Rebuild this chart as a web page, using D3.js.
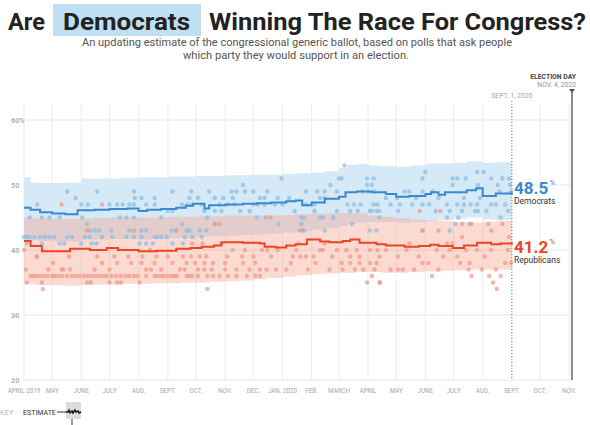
<!DOCTYPE html>
<html><head><meta charset="utf-8">
<script src="https://cdn.jsdelivr.net/npm/d3@7"></script>
<style>
body{margin:0;background:#fff;}
svg{display:block;font-family:Roboto,"Liberation Sans",sans-serif;}
.sm{font-family:Roboto,"Liberation Sans",sans-serif;}
</style>
</head><body>
<svg id="c" width="590" height="425"></svg>
<script>
// ---------- DATA ----------
const yTicks = [20, 30, 40, 50, 60];
const xTickDates = ["2019-04-01","2019-05-01","2019-06-01","2019-07-01","2019-08-01","2019-09-01","2019-10-01","2019-11-01","2019-12-01","2020-01-01","2020-02-01","2020-03-01","2020-04-01","2020-05-01","2020-06-01","2020-07-01","2020-08-01","2020-09-01","2020-10-01","2020-11-01"];
const xTickLabels = ["APRIL 2019","MAY","JUNE","JULY","AUG.","SEPT.","OCT.","NOV.","DEC.","JAN. 2020","FEB.","MARCH","APRIL","MAY","JUNE","JULY","AUG.","SEPT.","OCT.","NOV."];

const demEstimate = [["2019-04-01",46.5],["2019-04-08",46.2],["2019-04-18",45.8],["2019-05-01",45.6],["2019-05-15",45.5],["2019-05-28",46.1],["2019-06-15",46.2],["2019-07-01",46.3],["2019-07-20",46.4],["2019-08-01",46.0],["2019-08-10",46.2],["2019-08-25",46.3],["2019-09-10",46.5],["2019-09-20",46.8],["2019-09-28",47.1],["2019-10-10",46.4],["2019-10-15",46.9],["2019-11-01",47.0],["2019-11-20",47.1],["2019-12-05",47.2],["2019-12-20",47.3],["2020-01-05",47.5],["2020-01-15",47.6],["2020-01-22",46.9],["2020-02-01",47.3],["2020-02-15",47.9],["2020-03-01",48.2],["2020-03-08",48.9],["2020-03-20",49.0],["2020-04-05",48.9],["2020-04-20",48.6],["2020-05-01",48.2],["2020-05-15",48.3],["2020-06-01",48.6],["2020-06-07",48.9],["2020-06-15",48.5],["2020-06-22",48.9],["2020-07-05",48.9],["2020-07-15",49.2],["2020-07-25",49.5],["2020-08-01",48.3],["2020-08-15",48.7],["2020-09-01",48.5]];

const repEstimate = [["2019-04-01",41.4],["2019-04-08",40.6],["2019-04-20",39.8],["2019-05-20",40.2],["2019-06-10",40.0],["2019-06-28",40.3],["2019-07-10",40.0],["2019-08-01",39.8],["2019-08-20",39.9],["2019-09-10",40.2],["2019-09-25",40.3],["2019-10-07",40.5],["2019-10-20",40.7],["2019-10-28",41.2],["2019-11-20",41.1],["2019-12-08",41.0],["2019-12-13",40.5],["2019-12-25",40.4],["2020-01-05",40.7],["2020-01-15",40.9],["2020-01-27",41.6],["2020-02-10",41.3],["2020-02-20",41.2],["2020-03-05",41.4],["2020-03-13",41.6],["2020-03-23",41.1],["2020-04-10",40.9],["2020-04-20",40.7],["2020-05-10",40.5],["2020-05-25",40.6],["2020-06-06",40.8],["2020-06-15",40.6],["2020-06-30",40.3],["2020-07-12",40.7],["2020-07-26",41.1],["2020-08-10",40.9],["2020-08-20",41.0],["2020-09-01",41.2]];

const bandDates = ["2019-04-01","2019-04-08","2019-04-15","2019-05-01","2019-05-15","2019-06-01","2019-06-15","2019-07-01","2019-07-15","2019-08-01","2019-08-15","2019-09-01","2019-09-15","2019-10-01","2019-10-15","2019-11-01","2019-11-15","2019-12-01","2019-12-15","2020-01-01","2020-01-15","2020-02-01","2020-02-15","2020-03-01","2020-03-10","2020-03-20","2020-04-01","2020-04-15","2020-05-01","2020-05-15","2020-06-01","2020-06-15","2020-07-01","2020-07-15","2020-08-01","2020-08-15","2020-09-01"];
const demHigh = [51.2,50.4,50.3,50.3,50.4,51.0,51.0,51.0,51.1,51.2,51.2,51.3,51.3,51.4,51.4,51.5,51.5,51.6,51.6,51.7,51.8,51.9,52.1,52.6,53.1,53.2,53.0,52.9,52.8,53.0,53.3,53.3,53.4,53.6,53.4,53.5,53.3];
const demLow  = [41.6,41.5,41.4,41.3,41.3,41.6,41.6,41.7,41.7,41.6,41.7,41.8,41.9,42.0,42.1,42.2,42.3,42.4,42.5,42.7,42.9,43.1,43.4,43.7,44.0,44.2,44.3,44.3,44.2,44.3,44.5,44.6,44.8,45.0,44.7,44.6,44.5];
const repHigh = [45.0,44.9,44.8,44.8,44.8,44.9,44.9,45.0,45.0,45.0,45.0,45.1,45.1,45.2,45.2,45.3,45.3,45.3,45.3,45.4,45.5,45.6,45.6,45.7,45.7,45.6,45.3,45.1,44.9,44.7,44.6,44.5,44.3,44.2,44.4,44.5,44.6];
const repLow  = [34.8,34.7,34.6,34.6,34.5,34.6,34.7,34.7,34.8,34.8,34.9,34.9,35.0,35.0,35.1,35.2,35.3,35.5,35.7,35.9,36.1,36.3,36.4,36.5,36.5,36.6,36.6,36.5,36.5,36.6,36.7,36.8,36.9,37.0,37.0,37.0,37.0];

const demPolls = [["2019-04-01",42],["2019-04-04",42],["2019-04-07",42],["2019-04-12",42],["2019-04-18",42],["2019-04-23",42],["2019-04-28",42],["2019-04-04",41],["2019-04-20",41],["2019-04-15",47],["2019-04-07",45],["2019-04-20",45],["2019-04-28",45],
["2019-05-03",42],["2019-05-17",42],["2019-05-22",42],["2019-05-09",41],["2019-05-14",41],["2019-05-09",45],["2019-05-17",49],["2019-05-26",48],
["2019-06-01",47],["2019-06-08",47],["2019-06-02",45],["2019-06-07",44],["2019-06-10",43],["2019-06-15",43],["2019-06-20",43],["2019-06-05",42],["2019-06-10",42],["2019-06-23",42],["2019-06-01",41],["2019-06-12",41],["2019-06-17",41],["2019-06-18",49],
["2019-07-01",47],["2019-07-09",47],["2019-07-15",47],["2019-07-22",47],["2019-07-27",47],["2019-07-12",45],["2019-07-19",45],["2019-07-27",45],["2019-07-03",43],["2019-07-22",43],["2019-07-04",42],["2019-07-19",42],["2019-07-27",42],["2019-07-27",49],["2019-07-28",48],
["2019-08-04",42],["2019-08-04",48],["2019-08-18",48],["2019-08-09",47],["2019-08-18",47],["2019-08-25",45],["2019-08-04",43],["2019-08-09",43],["2019-08-18",42],["2019-08-21",42],["2019-08-25",42],["2019-08-31",42],["2019-08-02",41],["2019-08-09",41],["2019-08-16",41],
["2019-09-06",49],["2019-09-26",49],["2019-09-24",48],["2019-09-16",47],["2019-09-22",47],["2019-09-27",47],["2019-09-01",46],["2019-09-06",46],["2019-09-16",44],["2019-09-05",43],["2019-09-10",43],["2019-09-21",43],["2019-09-24",43],["2019-09-19",42],["2019-09-27",42],["2019-09-06",41],["2019-09-17",41],
["2019-10-15",49],["2019-10-03",48],["2019-10-21",48],["2019-10-30",48],["2019-10-07",47],["2019-10-26",47],["2019-10-10",46],["2019-10-21",46],["2019-10-28",46],["2019-10-13",45],["2019-10-21",44],["2019-10-05",43],["2019-10-12",43],["2019-10-07",42],["2019-10-28",41],
["2019-11-08",49],["2019-11-13",49],["2019-11-22",49],["2019-11-20",50],["2019-11-09",48],["2019-11-04",47],["2019-11-11",47],["2019-11-17",46],["2019-11-27",46],
["2019-12-01",49],["2019-12-08",48],["2019-12-01",47],["2019-12-06",47],["2019-12-16",49],["2019-12-13",48],["2019-12-27",48],["2019-12-13",47],["2019-12-24",47],["2019-12-31",51],["2019-12-05",45],["2019-12-14",45],["2019-12-28",44],
["2020-01-01",47],["2020-01-14",46],["2020-01-21",45],["2020-01-24",45],["2020-01-21",44],["2020-01-19",43],["2020-01-24",43],["2020-01-26",49],["2020-01-26",47],["2020-01-08",48],
["2020-02-07",49],["2020-02-15",49],["2020-02-28",49],["2020-02-10",48],["2020-02-15",48],["2020-02-04",47],["2020-02-04",46],["2020-02-28",46],["2020-02-10",45],["2020-02-13",45],["2020-02-24",45],["2020-02-15",43],["2020-02-21",50],
["2020-03-01",51],["2020-03-04",51],["2020-03-07",53],["2020-03-31",51],["2020-03-31",50],["2020-03-10",47],["2020-03-17",47],["2020-03-24",47],["2020-03-13",46],["2020-03-21",46],["2020-03-26",49],["2020-03-15",44],
["2020-04-01",49],["2020-04-08",49],["2020-04-11",47],["2020-04-03",46],["2020-04-13",45],["2020-04-03",43],["2020-04-07",51],["2020-04-05",50],["2020-04-07",47],["2020-04-05",46],["2020-04-10",46],["2020-04-13",46],["2020-04-10",43],["2020-04-20",48],["2020-04-25",47],
["2020-05-02",48],["2020-05-03",46],["2020-05-18",47],["2020-05-29",47],["2020-05-29",51],["2020-05-29",49],["2020-05-29",43],["2020-05-10",49],["2020-05-15",49],["2020-05-22",48],["2020-05-05",47],
["2020-06-01",52],["2020-06-09",49],["2020-06-24",47],["2020-06-24",45],["2020-06-27",46],["2020-06-27",43],["2020-06-30",51],["2020-06-30",50],["2020-06-05",47],["2020-06-15",48],["2020-06-12",46],
["2020-07-05",51],["2020-07-14",51],["2020-07-26",52],["2020-07-27",50],["2020-07-12",48],["2020-07-29",48],["2020-07-05",47],["2020-07-12",47],["2020-07-19",47],["2020-07-26",47],["2020-07-10",46],["2020-07-24",46],["2020-07-27",46],["2020-07-06",45],["2020-07-03",44],["2020-07-18",44],
["2020-08-02",52],["2020-08-10",51],["2020-08-22",51],["2020-08-29",51],["2020-08-17",50],["2020-08-19",49],["2020-08-10",47],["2020-08-15",47],["2020-08-05",46],["2020-08-25",47],["2020-08-30",50],["2020-08-31",49],["2020-08-28",46],["2020-08-20",45]];

const repPolls = [["2019-04-01",40],["2019-04-14",39],["2019-04-15",39],["2019-04-03",37],["2019-04-27",37],["2019-04-04",35],["2019-04-20",35],["2019-04-21",34],["2019-04-08",36],["2019-04-11",36],["2019-04-14",36],["2019-04-18",36],["2019-04-22",36],["2019-04-26",36],
["2019-05-02",38],["2019-05-11",47],["2019-05-11",37],["2019-05-13",37],["2019-05-19",39],["2019-05-20",37],["2019-05-01",36],["2019-05-04",36],["2019-05-08",36],["2019-05-12",36],["2019-05-17",36],["2019-05-22",36],["2019-05-26",36],["2019-05-30",36],
["2019-06-07",43],["2019-06-23",47],["2019-06-18",39],["2019-06-23",38],["2019-06-15",37],["2019-06-07",35],["2019-06-11",35],["2019-06-04",36],["2019-06-08",36],["2019-06-12",36],["2019-06-16",36],["2019-06-20",36],["2019-06-24",36],["2019-06-28",36],
["2019-07-06",39],["2019-07-21",39],["2019-07-09",38],["2019-07-24",38],["2019-07-01",37],["2019-07-01",35],["2019-07-09",35],["2019-07-13",35],["2019-07-27",43],["2019-07-03",36],["2019-07-08",36],["2019-07-13",36],["2019-07-18",36],["2019-07-22",36],["2019-07-27",36],["2019-07-31",36],
["2019-08-04",38],["2019-08-05",39],["2019-08-20",39],["2019-08-18",38],["2019-08-09",37],["2019-08-14",37],["2019-08-25",37],["2019-08-09",36],["2019-08-18",36],["2019-08-21",36],["2019-08-25",36],["2019-08-28",36],["2019-08-02",35],["2019-08-13",40],
["2019-09-01",39],["2019-09-17",39],["2019-09-26",39],["2019-09-06",38],["2019-09-21",38],["2019-09-30",38],["2019-09-14",37],["2019-09-19",37],["2019-09-01",36],["2019-09-05",36],["2019-09-08",36],["2019-09-11",36],["2019-09-21",36],["2019-09-24",36],["2019-09-27",36],["2019-09-10",43],["2019-09-27",41],
["2019-10-05",39],["2019-10-12",39],["2019-10-10",38],["2019-10-19",38],["2019-10-03",37],["2019-10-10",37],["2019-10-18",37],["2019-10-03",36],["2019-10-13",36],["2019-10-19",36],["2019-10-26",36],["2019-10-13",34],["2019-10-21",44],["2019-10-26",44],["2019-10-08",41],
["2019-11-03",39],["2019-11-19",39],["2019-11-01",38],["2019-11-20",38],["2019-11-01",37],["2019-11-13",37],["2019-11-27",37],["2019-11-04",36],["2019-11-13",36],["2019-11-24",36],["2019-11-09",40],["2019-11-22",40],
["2019-12-01",39],["2019-12-03",38],["2019-12-08",37],["2019-12-03",36],["2019-12-08",36],["2019-12-10",40],["2019-12-16",40],["2019-12-27",40],["2019-12-19",45],["2019-12-20",39],["2019-12-15",37],["2019-12-25",37],
["2020-01-16",40],["2020-01-12",39],["2020-01-26",39],["2020-01-22",43],["2020-01-20",39],["2020-01-05",37],["2020-01-28",37],["2020-01-10",38],["2020-01-18",41],
["2020-02-10",40],["2020-02-13",40],["2020-02-28",40],["2020-02-23",39],["2020-02-03",39],["2020-02-20",37],["2020-02-05",38],["2020-02-15",41],
["2020-03-09",40],["2020-03-13",39],["2020-03-23",39],["2020-03-04",38],["2020-03-13",38],["2020-03-23",38],["2020-03-05",37],["2020-03-18",37],["2020-03-27",37],["2020-03-31",35],["2020-03-20",40],
["2020-04-03",40],["2020-04-11",40],["2020-04-03",38],["2020-04-13",39],["2020-04-08",37],["2020-04-13",35],["2020-04-05",36],["2020-04-10",38],["2020-04-20",40],["2020-04-25",37],["2020-04-14",35],
["2020-05-03",39],["2020-05-12",40],["2020-05-20",37],["2020-05-25",39],["2020-05-26",46],["2020-05-29",43],["2020-05-29",38],["2020-05-15",41],["2020-05-08",37],["2020-05-03",37],
["2020-06-17",46],["2020-06-15",43],["2020-06-24",41],["2020-06-15",37],["2020-06-08",36],["2020-06-13",40],["2020-06-20",39],["2020-06-27",40],["2020-06-30",41],["2020-06-04",38],
["2020-07-10",44],["2020-07-20",44],["2020-07-10",42],["2020-07-08",38],["2020-07-18",38],["2020-07-17",37],["2020-07-20",36],["2020-07-26",40],["2020-07-31",37],["2020-07-05",39],["2020-07-14",40],
["2020-08-07",44],["2020-08-22",44],["2020-08-10",43],["2020-08-03",39],["2020-08-10",40],["2020-08-15",37],["2020-08-08",36],["2020-08-25",38],["2020-08-20",36],["2020-08-12",35],["2020-08-28",40],["2020-08-31",38],["2020-08-29",42],["2020-08-16",34]];

const lastPollDate = "2020-09-01";
const electionDate = "2020-11-04";

// ---------- CHART ----------
const parse = d3.timeParse("%Y-%m-%d");
const svg = d3.select("#c");
const DEM = "#3a89d0", REP = "#ee4324";

const x = d3.scaleTime().domain([parse("2019-04-01"), parse(electionDate)]).range([24, 572]);
const y = d3.scaleLinear().domain([20, 60]).range([380, 120]);

// squeeze a text to a narrower, condensed look
function squeeze(sel, f){
  sel.each(function(){
    const w = this.getComputedTextLength();
    d3.select(this).attr("textLength", w*f).attr("lengthAdjust","spacingAndGlyphs");
  });
}

// title
const t = svg.append("g");
t.append("rect").attr("x",53).attr("y",4).attr("width",148).attr("height",32).attr("fill","#bfe0f3");
const tStyle = s => s.attr("font-size",24).attr("font-weight",700).attr("fill","#222").attr("y",30).attr("lengthAdjust","spacingAndGlyphs");
tStyle(t.append("text").attr("x",8).attr("textLength",37).text("Are"));
tStyle(t.append("text").attr("x",63).attr("textLength",127).text("Democrats"));
tStyle(t.append("text").attr("x",209).attr("textLength",377).text("Winning The Race For Congress?"));
t.append("text").attr("x",297).attr("y",46).attr("text-anchor","middle").attr("font-size",11).attr("fill","#555")
  .attr("textLength",430).attr("lengthAdjust","spacingAndGlyphs")
  .text("An updating estimate of the congressional generic ballot, based on polls that ask people");
t.append("text").attr("x",296).attr("y",59).attr("text-anchor","middle").attr("font-size",11).attr("fill","#555")
  .attr("textLength",226).attr("lengthAdjust","spacingAndGlyphs")
  .text("which party they would support in an election.");

// grid
const grid = svg.append("g");
grid.selectAll(".hg").data(yTicks).join("line")
  .attr("x1",24).attr("x2",572).attr("y1",d=>y(d)).attr("y2",d=>y(d))
  .attr("stroke","#e6e6e6").attr("stroke-width",1);
grid.selectAll(".vg").data(xTickDates).join("line")
  .attr("x1",d=>x(parse(d))).attr("x2",d=>x(parse(d))).attr("y1",103).attr("y2",380)
  .attr("stroke","#ececec").attr("stroke-width",1);

// y labels
svg.append("g").selectAll("text").data(yTicks).join("text")
  .attr("class","sm").attr("x",11).attr("y",d=>y(d)+3).attr("font-size",8).attr("font-weight",700).attr("fill","#b0b0b0")
  .text(d=> d===60 ? "60%" : d).call(squeeze, 0.9);

// x labels
svg.append("g").selectAll("text").data(xTickDates).join("text")
  .attr("class","sm").attr("x",d=>x(parse(d))).attr("y",393).attr("text-anchor","middle")
  .attr("font-size",8).attr("fill","#a6a6a6")
  .text((d,i)=>xTickLabels[i])
  .call(squeeze, 0.78);

// bands
const bandRows = (hi, lo) => bandDates.map((d,i)=>({date:parse(d), hi:hi[i], lo:lo[i]}));
const area = d3.area().curve(d3.curveStepAfter).x(d=>x(d.date)).y0(d=>y(d.lo)).y1(d=>y(d.hi));
svg.append("path").attr("d", area(bandRows(demHigh, demLow))).attr("fill","#d5e9f6");
svg.append("path").attr("d", area(bandRows(repHigh, repLow))).attr("fill","rgb(245,162,142)").attr("fill-opacity",0.4);

// dots
svg.append("g").selectAll("circle").data(demPolls).join("circle")
  .attr("cx",d=>x(parse(d[0]))).attr("cy",d=>y(d[1])).attr("r",2.2)
  .attr("fill","#8dbde3").attr("fill-opacity",0.75);
svg.append("g").selectAll("circle").data(repPolls).join("circle")
  .attr("cx",d=>x(parse(d[0]))).attr("cy",d=>y(d[1])).attr("r",2.2)
  .attr("fill","#f29682").attr("fill-opacity",0.7);

// estimate lines
const line = d3.line().curve(d3.curveStepAfter).x(d=>x(parse(d[0]))).y(d=>y(d[1]));
svg.append("path").attr("d", line(demEstimate)).attr("fill","none").attr("stroke",DEM).attr("stroke-width",2);
svg.append("path").attr("d", line(repEstimate)).attr("fill","none").attr("stroke",REP).attr("stroke-width",2);

// sept 1 marker
const xs = x(parse(lastPollDate));
svg.append("line").attr("x1",xs).attr("x2",xs).attr("y1",101).attr("y2",380)
  .attr("stroke","#777").attr("stroke-width",1).attr("stroke-dasharray","1,2");
svg.append("text").attr("class","sm").attr("x",xs).attr("y",98).attr("text-anchor","middle")
  .attr("font-size",8).attr("fill","#a8a8a8").text("SEPT. 1, 2020").call(squeeze, 0.85);

// election day
const xe = x(parse(electionDate));
svg.append("line").attr("x1",xe).attr("x2",xe).attr("y1",91).attr("y2",380).attr("stroke","#666").attr("stroke-width",1.5);
svg.append("path").attr("d",`M${xe-3},89L${xe+3},89L${xe},93Z`).attr("fill","#555");
svg.append("text").attr("class","sm").attr("x",xe+4).attr("y",79).attr("text-anchor","end")
  .attr("font-size",8).attr("font-weight",700).attr("fill","#444").text("ELECTION DAY").call(squeeze, 0.85);
svg.append("text").attr("class","sm").attr("x",xe+4).attr("y",87).attr("text-anchor","end")
  .attr("font-size",8).attr("fill","#999").text("NOV. 4, 2020").call(squeeze, 0.85);

// end labels
function endLabel(val, color, name, yb){
  const v = svg.append("text").attr("x",514).attr("y",yb).attr("font-size",17).attr("font-weight",700)
    .attr("fill",color).text(val.toFixed(1));
  const w = v.node().getComputedTextLength();
  svg.append("text").attr("x",514+w+1.5).attr("y",yb-9).attr("font-size",7).attr("fill",color).text("%");
  svg.append("text").attr("class","sm").attr("x",514).attr("y",yb+10).attr("font-size",8.5).attr("fill","#333").text(name);
}
endLabel(demEstimate[demEstimate.length-1][1], DEM, "Democrats", 194);
endLabel(repEstimate[repEstimate.length-1][1], REP, "Republicans", 253);

// key
const k = svg.append("g");
k.append("text").attr("class","sm").attr("x",0).attr("y",415).attr("font-size",7.5).attr("fill","#bbb").text("KEY");
k.append("text").attr("class","sm").attr("x",23).attr("y",415).attr("font-size",8).attr("fill","#333").text("ESTIMATE").call(squeeze, 0.88);
k.append("line").attr("x1",57).attr("x2",67).attr("y1",412).attr("y2",412).attr("stroke","#333");
k.append("rect").attr("x",66).attr("y",402).attr("width",15).attr("height",17).attr("fill","#dcdcdc");
k.append("path").attr("d","M66,412L68,412L69,410L70,413L72,411L73,413L75,410L76,412L78,411L79,413L81,412")
  .attr("fill","none").attr("stroke","#111").attr("stroke-width",1.4);
k.append("line").attr("x1",72).attr("x2",72).attr("y1",419).attr("y2",425).attr("stroke","#333");
</script>
</body></html>
